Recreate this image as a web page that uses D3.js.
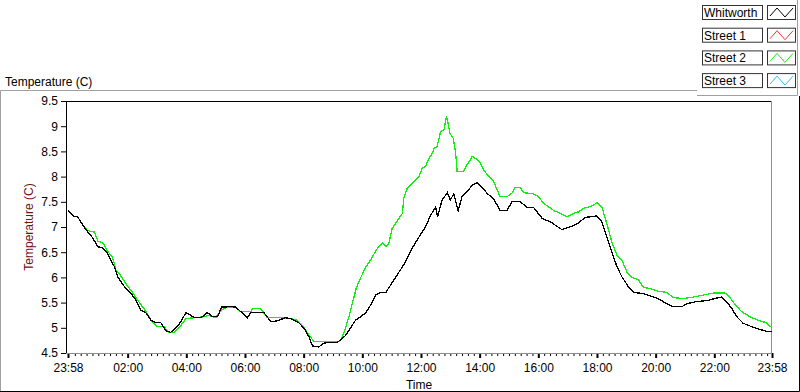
<!DOCTYPE html>
<html>
<head>
<meta charset="utf-8">
<script src="https://cdn.jsdelivr.net/npm/d3@7"></script>
<style>
  body { margin: 0; background: #fff; }
  svg { display: block; font-family: "Liberation Sans", Arial, sans-serif; }
</style>
</head>
<body>
<div id="chart"></div>
<script>
// Series names and colours (legend order)
const seriesNames = ["Whitworth", "Street 1", "Street 2", "Street 3"];
const seriesColors = ["#000000", "#ff3333", "#11ee11", "#33bbff"];

// Whitworth readings (first 23:58 is the previous day)
const whitworthTimes = ["23:58","00:08","00:18","00:28","00:38","00:48","00:59","01:09","01:19","01:26","01:33","01:40","01:46","01:56","02:07","02:17","02:27","02:37","02:48","02:58","03:08","03:18","03:28","03:39","03:49","03:59","04:09","04:16","04:30","04:43","04:54","05:04","05:12","05:31","05:41","05:55","06:05","06:12","06:39","06:53","07:06","07:23","07:34","07:50","08:01","08:11","08:18","08:31","08:42","09:09","09:26","09:36","09:46","09:57","10:07","10:17","10:27","10:37","10:48","10:58","11:08","11:18","11:28","11:42","11:52","12:09","12:20","12:30","12:34","12:43","12:54","13:00","13:07","13:16","13:24","13:34","13:45","13:55","14:05","14:15","14:29","14:42","14:56","15:06","15:23","15:37","15:50","16:08","16:25","16:48","17:05","17:22","17:36","18:00","18:10","18:20","18:31","18:41","18:51","19:04","19:15","19:35","20:03","20:19","20:36","20:54","21:04","21:24","21:45","22:05","22:15","22:25","22:36","22:46","22:59","23:17","23:33","23:50","23:58"];
const whitworthTemps = [7.33,7.22,7.2,7.04,6.91,6.79,6.61,6.58,6.48,6.33,6.21,6.01,5.92,5.78,5.68,5.55,5.35,5.3,5.15,5.1,5.1,4.94,4.91,5.0,5.12,5.3,5.25,5.2,5.2,5.3,5.22,5.22,5.41,5.42,5.41,5.29,5.2,5.3,5.3,5.12,5.14,5.2,5.18,5.1,4.99,4.82,4.64,4.62,4.7,4.71,4.85,5.0,5.15,5.22,5.3,5.45,5.65,5.7,5.7,5.85,6.0,6.15,6.3,6.58,6.74,7.0,7.24,7.39,7.2,7.53,7.68,7.53,7.66,7.32,7.6,7.7,7.83,7.88,7.79,7.67,7.55,7.33,7.33,7.5,7.5,7.39,7.39,7.17,7.1,6.95,7.0,7.08,7.19,7.22,7.1,6.8,6.48,6.21,6.01,5.82,5.7,5.68,5.59,5.5,5.42,5.42,5.48,5.52,5.54,5.59,5.61,5.52,5.38,5.22,5.09,5.02,4.97,4.92,4.93];

// Street 1 and Street 3: no readings in this period
const street1Times = [];
const street1Temps = [];
const street3Times = [];
const street3Temps = [];

// Street 2 readings
const street2Times = ["23:58","00:08","00:18","00:28","00:38","00:52","00:59","01:09","01:19","01:29","01:36","01:46","01:56","02:10","02:24","02:37","02:48","03:01","03:15","03:24","03:35","03:45","03:59","04:16","04:36","04:46","05:00","05:11","05:21","05:41","05:51","06:12","06:16","06:32","06:46","07:13","07:34","07:47","08:01","08:11","08:21","09:09","09:16","09:24","09:32","09:40","09:48","09:57","10:07","10:17","10:31","10:41","10:48","10:54","11:01","11:08","11:15","11:22","11:25","11:32","11:39","11:45","11:56","12:02","12:09","12:16","12:23","12:27","12:33","12:40","12:47","12:52","12:55","12:59","13:06","13:11","13:14","13:27","13:34","13:45","13:55","14:02","14:08","14:19","14:29","14:36","14:42","14:56","15:06","15:13","15:23","15:30","15:50","16:00","16:11","16:21","16:31","16:45","16:59","17:12","17:22","17:33","17:50","18:00","18:10","18:20","18:31","18:41","18:51","19:01","19:11","19:25","19:35","19:49","20:03","20:23","20:36","20:57","21:17","21:38","21:58","22:22","22:32","22:46","22:56","23:13","23:29","23:47","23:54","23:58"];
const street2Temps = [7.33,7.22,7.2,7.04,6.93,6.9,6.72,6.69,6.52,6.4,6.15,6.03,5.88,5.7,5.5,5.33,5.15,5.02,5.02,4.91,4.91,5.0,5.18,5.2,5.22,5.25,5.2,5.35,5.4,5.4,5.32,5.32,5.38,5.38,5.2,5.2,5.18,5.15,5.0,4.85,4.73,4.72,4.75,4.95,5.2,5.5,5.8,6.0,6.2,6.35,6.58,6.69,6.61,6.67,6.97,7.07,7.17,7.27,7.57,7.77,7.83,7.9,8.0,8.16,8.2,8.36,8.46,8.56,8.6,8.89,8.93,9.19,9.09,8.86,8.76,8.46,8.1,8.1,8.23,8.4,8.34,8.26,8.13,8.0,7.9,7.73,7.6,7.6,7.67,7.79,7.79,7.68,7.66,7.6,7.47,7.4,7.33,7.27,7.2,7.27,7.3,7.37,7.42,7.48,7.4,7.07,6.68,6.44,6.34,6.11,6.0,5.95,5.8,5.78,5.73,5.7,5.6,5.58,5.61,5.65,5.69,5.69,5.6,5.42,5.32,5.22,5.15,5.1,5.02,5.02];

// Axis ticks
const xTickLabels = ["23:58","02:00","04:00","06:00","08:00","10:00","12:00","14:00","16:00","18:00","20:00","22:00","23:58"];
const yTickValues = [4.5, 5, 5.5, 6, 6.5, 7, 7.5, 8, 8.5, 9, 9.5];

const width = 800, height = 392;
const plot = { left: 66, right: 772, top: 101, bottom: 353 };

// "HH:MM" -> Date; a leading 23:58 belongs to the previous day
function toDate(hhmm, i) {
  const [h, m] = hhmm.split(":").map(Number);
  let mins = h * 60 + m;
  if (i === 0 && mins > 720) mins -= 1440;
  return new Date(2021, 0, 2, 0, mins);
}

const series = [
  { times: whitworthTimes, temps: whitworthTemps },
  { times: street1Times, temps: street1Temps },
  { times: street2Times, temps: street2Temps },
  { times: street3Times, temps: street3Temps }
].map((s, k) => ({
  name: seriesNames[k],
  color: seriesColors[k],
  values: s.times.map((t, i) => ({ date: toDate(t, i), temp: s.temps[i] }))
}));

const startDate = toDate(xTickLabels[0], 0);
const endDate = toDate(xTickLabels[xTickLabels.length - 1], 1);

const x = d3.scaleTime().domain([startDate, endDate]).range([plot.left + 2, plot.right]);
const y = d3.scaleLinear().domain([4.5, 9.5]).range([plot.bottom, plot.top]);

const svg = d3.select("#chart").append("svg")
  .attr("width", width)
  .attr("height", height);

// Outer panel frame
svg.append("path")
  .attr("d", `M0.5,392 V90.5 H697`)
  .attr("fill", "none").attr("stroke", "#a0a0a0");
svg.append("path")
  .attr("d", `M799.5,96 V391.5 H0`)
  .attr("fill", "none").attr("stroke", "#000");

// Page title
svg.append("text")
  .attr("x", 5).attr("y", 86)
  .style("font-size", "12px")
  .text("Temperature (C)");

// Plot frame
svg.append("rect")
  .attr("x", plot.left).attr("y", plot.top)
  .attr("width", plot.right - plot.left).attr("height", plot.bottom - plot.top)
  .attr("fill", "#fff");
svg.append("line")
  .attr("x1", plot.left).attr("x2", plot.right)
  .attr("y1", plot.top + 0.5).attr("y2", plot.top + 0.5)
  .attr("stroke", "#000");
svg.append("line")
  .attr("x1", plot.right - 0.5).attr("x2", plot.right - 0.5)
  .attr("y1", plot.top).attr("y2", plot.bottom)
  .attr("stroke", "#909090");

// Series lines (aliased, like the instrument display)
const line = d3.line()
  .x(d => x(d.date))
  .y(d => y(d.temp));

svg.append("g")
  .selectAll("path")
  .data(series.filter(s => s.values.length).reverse())
  .join("path")
  .attr("fill", "none")
  .attr("stroke", d => d.color)
  .attr("stroke-width", 1.3)
  .attr("shape-rendering", "crispEdges")
  .attr("d", d => line(d.values));

// Y axis
const yAxis = svg.append("g")
  .attr("transform", `translate(${plot.left},0)`)
  .call(d3.axisLeft(y).tickValues(yTickValues).tickFormat(d3.format("~g")).tickSize(5).tickPadding(3));
yAxis.select(".domain").remove();
yAxis.selectAll(".tick line").attr("stroke", "#000");
yAxis.selectAll("text").style("font-size", "12px").attr("fill", "#000").style("font-family", "Liberation Sans, Arial, sans-serif");
svg.append("line")
  .attr("x1", plot.left + 0.5).attr("x2", plot.left + 0.5)
  .attr("y1", plot.top).attr("y2", plot.bottom + 1)
  .attr("stroke", "#000");

// X axis: minor ticks every 12 minutes, major ticks at labels
const majorDates = xTickLabels.map((t, i) => toDate(t, i));
const minorDates = d3.timeMinute.every(12)
  .range(toDate("00:12", 1), endDate)
  .filter(d => d.getMinutes() !== 0 || d.getHours() % 2 !== 0);

const xMinor = svg.append("g")
  .attr("transform", `translate(0,${plot.bottom})`)
  .call(d3.axisBottom(x).tickValues(minorDates).tickFormat("").tickSize(3));
xMinor.select(".domain").remove();
xMinor.selectAll(".tick line").attr("stroke", "#000");

const xAxis = svg.append("g")
  .attr("transform", `translate(0,${plot.bottom})`)
  .call(d3.axisBottom(x).tickValues(majorDates)
    .tickFormat((d, i) => xTickLabels[i]).tickSize(5).tickPadding(5));
xAxis.select(".domain").remove();
xAxis.selectAll(".tick line").attr("stroke", "#000").attr("stroke-width", 2);
xAxis.selectAll("text").style("font-size", "12px").attr("fill", "#000").style("font-family", "Liberation Sans, Arial, sans-serif");

svg.append("line")
  .attr("x1", plot.left).attr("x2", plot.right)
  .attr("y1", plot.bottom + 0.5).attr("y2", plot.bottom + 0.5)
  .attr("stroke", "#909090");

// Axis titles
svg.append("text")
  .attr("transform", `translate(33,${(plot.top + plot.bottom) / 2}) rotate(-90)`)
  .attr("text-anchor", "middle")
  .attr("fill", "#6e1414")
  .style("font-size", "12px")
  .text("Temperature (C)");

svg.append("text")
  .attr("x", (plot.left + plot.right) / 2).attr("y", 389)
  .attr("text-anchor", "middle")
  .style("font-size", "12px")
  .text("Time");

// Legend panel
const legend = svg.append("g");
legend.append("rect")
  .attr("x", 697).attr("y", 0).attr("width", 100).attr("height", 95)
  .attr("fill", "#fff");
legend.append("path")
  .attr("d", "M697,95.5 H797.5 V0")
  .attr("fill", "none").attr("stroke", "#a0a0a0");

const rowH = 22.7;
const rows = legend.selectAll(".row")
  .data(series)
  .join("g")
  .attr("class", "row")
  .attr("transform", (d, i) => `translate(0,${5 + i * rowH})`);

rows.append("rect")
  .attr("x", 702.5).attr("y", 0.5).attr("width", 60).attr("height", 14)
  .attr("fill", "#fff").attr("stroke", "#333");
rows.append("text")
  .attr("x", 704).attr("y", 12)
  .style("font-size", "12px")
  .text(d => d.name);
rows.append("rect")
  .attr("x", 767.5).attr("y", 0.5).attr("width", 28).attr("height", 14)
  .attr("fill", "#fff").attr("stroke", "#333");
rows.append("path")
  .attr("d", "M770,11 L777,3 L785,12 L793,3")
  .attr("fill", "none")
  .attr("stroke", d => d.color)
  .attr("stroke-width", 1);
</script>
</body>
</html>
